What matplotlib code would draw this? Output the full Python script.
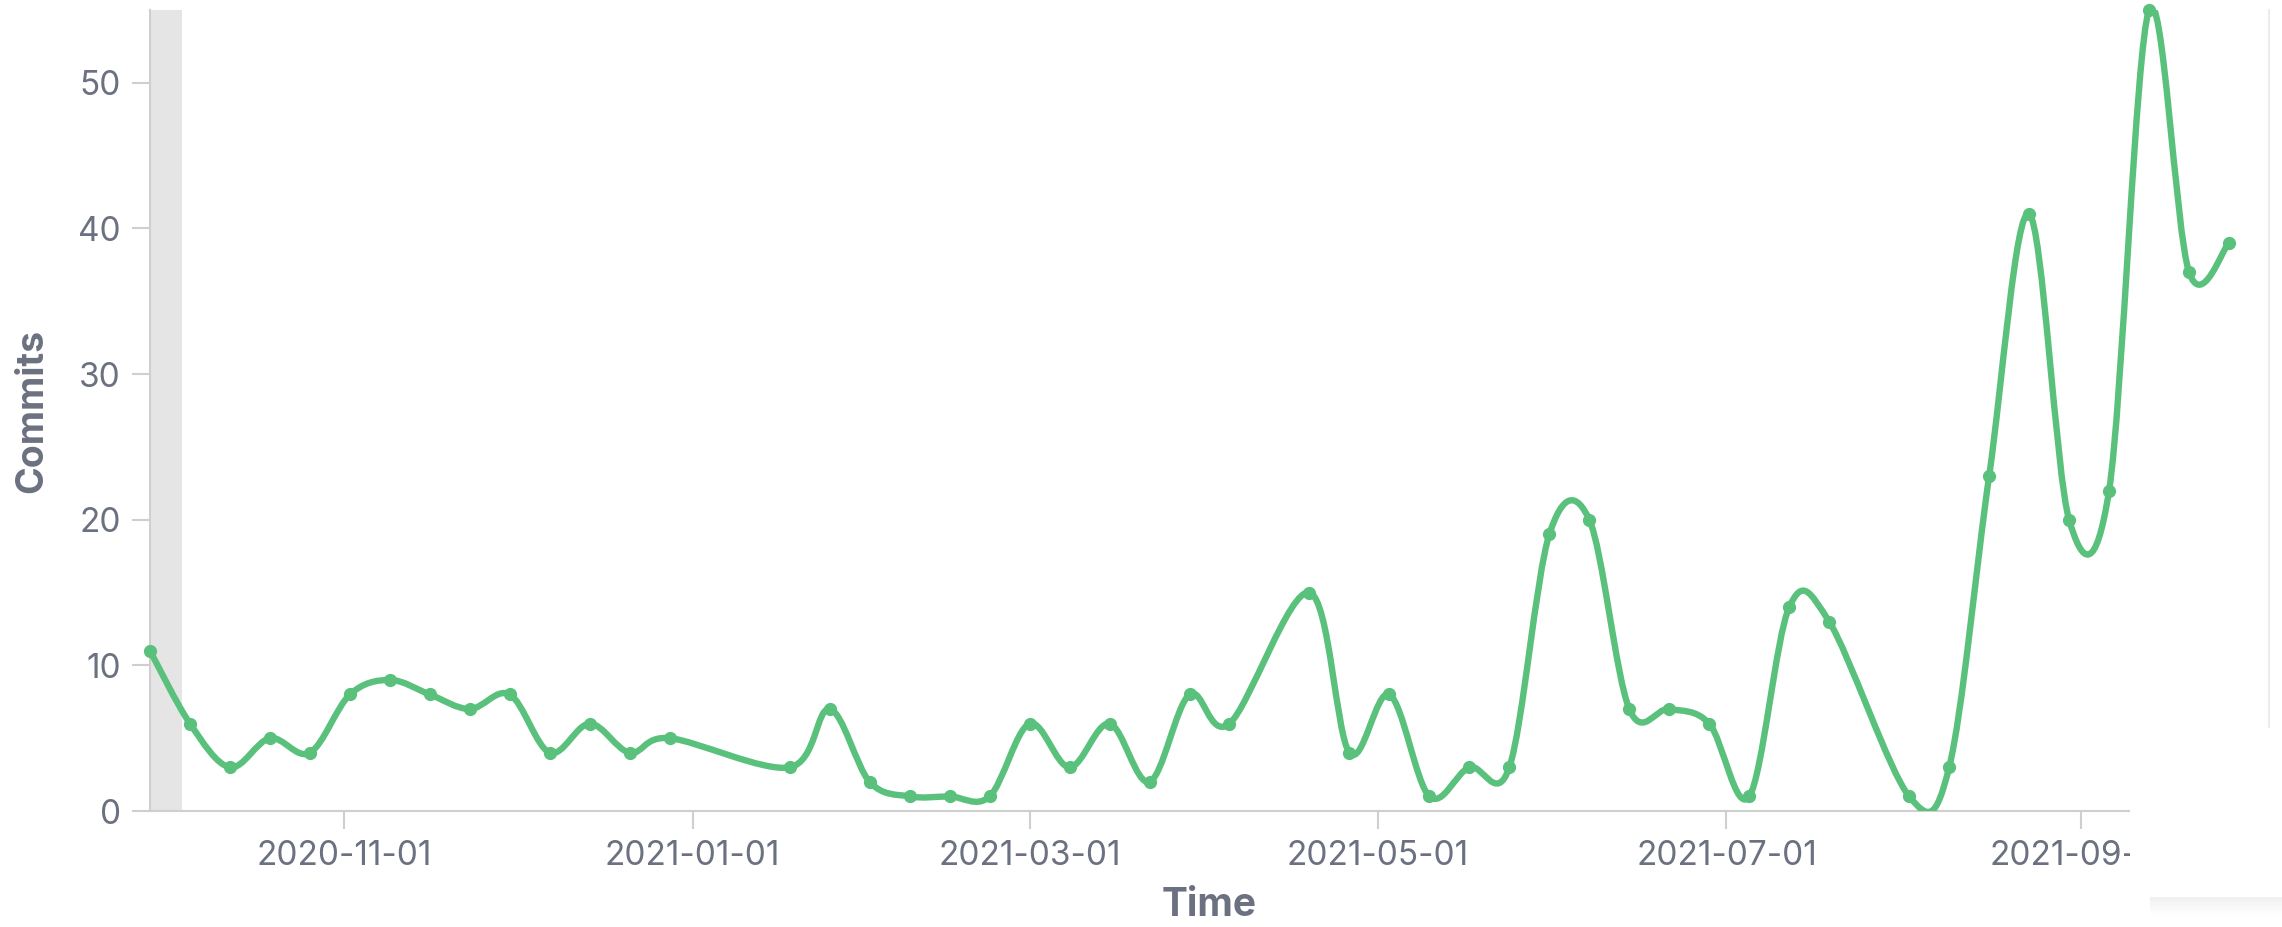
import numpy as np
import pandas as pd
import matplotlib
matplotlib.use("Agg")
import matplotlib.pyplot as plt
import matplotlib.dates as mdates
from matplotlib.path import Path
from matplotlib.patches import PathPatch, Rectangle

plt.rcParams['font.family'] = ['Inter', 'DejaVu Sans']

# weekly commit counts (weeks with no commits are simply absent)
weeks = ['2020-09-28', '2020-10-05', '2020-10-12', '2020-10-19', '2020-10-26',
         '2020-11-02', '2020-11-09', '2020-11-16', '2020-11-23', '2020-11-30',
         '2020-12-07', '2020-12-14', '2020-12-21', '2020-12-28',
         '2021-01-18', '2021-01-25', '2021-02-01', '2021-02-08', '2021-02-15',
         '2021-02-22', '2021-03-01', '2021-03-08', '2021-03-15', '2021-03-22',
         '2021-03-29', '2021-04-05',
         '2021-04-19', '2021-04-26', '2021-05-03', '2021-05-10', '2021-05-17',
         '2021-05-24', '2021-05-31', '2021-06-07', '2021-06-14', '2021-06-21',
         '2021-06-28', '2021-07-05', '2021-07-12', '2021-07-19',
         '2021-08-02', '2021-08-09', '2021-08-16', '2021-08-23', '2021-08-30',
         '2021-09-06', '2021-09-13', '2021-09-20', '2021-09-27']
commits = [11, 6, 3, 5, 4,
           8, 9, 8, 7, 8,
           4, 6, 4, 5,
           3, 7, 2, 1, 1,
           1, 6, 3, 6, 2,
           8, 6,
           15, 4, 8, 1, 3,
           3, 19, 20, 7, 7,
           6, 1, 14, 13,
           1, 3, 23, 41, 20,
           22, 55, 37, 39]

x_start = '2020-09-28'
x_end = '2021-10-04'
band_end = '2020-10-03 14:00'
y_ticks = [0, 10, 20, 30, 40, 50]

green = '#5ac17d'
label_grey = '#6b7180'
axis_grey = '#cfcfcf'

fig = plt.figure(figsize=(22.82, 9.27), dpi=100)
ax = fig.add_axes([150 / 2282, 1 - 811 / 927, 2119 / 2282, 801 / 927])

xs = mdates.date2num(pd.to_datetime(weeks))
ys = np.array(commits, dtype=float)

# cardinal spline (tension 0) through the points, as bezier segments
px = np.concatenate([[xs[0]], xs, [xs[-1]]])
py = np.concatenate([[ys[0]], ys, [ys[-1]]])
verts = [(xs[0], ys[0])]
codes = [Path.MOVETO]
for i in range(1, len(px) - 2):
    c1 = (px[i] + (px[i + 1] - px[i - 1]) / 6, py[i] + (py[i + 1] - py[i - 1]) / 6)
    c2 = (px[i + 1] - (px[i + 2] - px[i]) / 6, py[i + 1] - (py[i + 2] - py[i]) / 6)
    verts += [c1, c2, (px[i + 1], py[i + 1])]
    codes += [Path.CURVE4] * 3
curve = PathPatch(Path(verts, codes), facecolor='none', edgecolor=green,
                  lw=4.6, capstyle='round', joinstyle='round', zorder=3)
ax.add_patch(curve)
ax.plot(xs, ys, 'o', color=green, ms=8.5, zorder=4, clip_on=False)

ax.axvspan(mdates.date2num(pd.Timestamp(x_start)), mdates.date2num(pd.Timestamp(band_end)),
           color='#e5e5e5', lw=0, zorder=1)

ax.set_xlim(mdates.date2num(pd.Timestamp(x_start)), mdates.date2num(pd.Timestamp(x_end)))
ax.set_ylim(0, 55)
ax.set_yticks(y_ticks)
ax.xaxis.set_major_locator(mdates.MonthLocator(bymonth=[1, 3, 5, 7, 9, 11]))
ax.xaxis.set_major_formatter(mdates.DateFormatter('%Y-%m-%d'))

ax.spines['top'].set_visible(False)
ax.spines['right'].set_color('#ececec')
ax.spines['right'].set_linewidth(1.5)
for s in ['left', 'bottom']:
    ax.spines[s].set_color(axis_grey)
    ax.spines[s].set_linewidth(1.5)
ax.tick_params(axis='both', length=13, width=1.5, color=axis_grey,
               labelcolor=label_grey, labelsize=24, pad=8)

ax.set_xlabel('Time', fontsize=28, fontweight='bold', color=label_grey)
ax.set_ylabel('Commits', fontsize=27, fontweight='bold', color=label_grey)
ax.xaxis.set_label_coords(0.5, (811 - 905) / 801)
ax.yaxis.set_label_coords((32 - 150) / 2119, 0.5)
ax.xaxis.label.set_va('center')
ax.yaxis.label.set_va('center')

# floating white panel in the lower right corner, with a soft shadow
for k in range(8):
    fig.add_artist(Rectangle((2150 / 2282, 1 - (897 + 2.5 * k) / 927), 0.1, 0.15,
                             transform=fig.transFigure, facecolor='black',
                             alpha=0.008, lw=0, zorder=9))
fig.add_artist(Rectangle((2130 / 2282, 1 - 897 / 927), 0.1, (897 - 728) / 927,
                         transform=fig.transFigure, facecolor='white', lw=0, zorder=10))

fig.savefig('out.png', dpi=100, facecolor='white')
